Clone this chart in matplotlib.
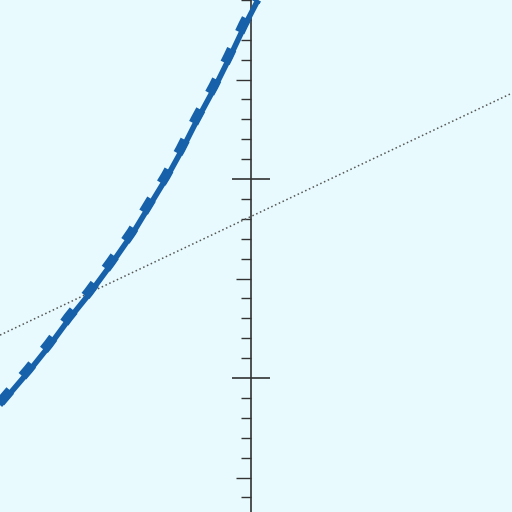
import numpy as np
import matplotlib
matplotlib.use('Agg')
import matplotlib.pyplot as plt
import matplotlib.transforms as mtransforms

plt.rcParams['lines.scale_dashes'] = False

# curve (units: one major tick = 1)
curve_x = [-1.261, -1.111, -1.010, -0.910, -0.809, -0.698, -0.593, -0.508,
           -0.422, -0.347, -0.271, -0.181, -0.106, -0.030, 0.035]
curve_y = [-0.136, 0.040, 0.166, 0.302, 0.427, 0.578, 0.729, 0.869,
           1.010, 1.146, 1.296, 1.462, 1.613, 1.774, 1.899]

# dotted straight line
line_x = [-1.261, 1.312]
line_y = [0.216, 1.432]

major_ticks = [0.0, 1.0]
half_ticks = [-0.5, 0.5, 1.5]
minor_ticks = [round(v, 1) for v in np.arange(-0.6, 1.95, 0.1)]

bg = '#e8fafd'
blue = '#1661aa'

fig = plt.figure(figsize=(5.12, 5.12), dpi=100, facecolor=bg)
ax = fig.add_axes([0, 0, 1, 1], facecolor=bg)

ax.plot(line_x, line_y, color='#555555', lw=1.1, linestyle=(0, (1.1, 1.9)), zorder=2)
ax.plot(curve_x, curve_y, color=blue, lw=4.0, solid_capstyle='butt', zorder=3)
# thick dashes sit a little to the upper-left of the line
shift = mtransforms.offset_copy(ax.transData, fig=fig, x=-1.0, y=0.7, units='points')
ax.plot(curve_x, curve_y, color=blue, lw=7.2, linestyle=(23, (11, 13.5)),
        dash_capstyle='butt', zorder=3, transform=shift)

ax.set_xlim(-1.261, 1.312)
ax.set_ylim(-0.673, 1.899)

for s in ['top', 'right', 'bottom']:
    ax.spines[s].set_visible(False)
ax.spines['left'].set_position(('data', 0))
ax.spines['left'].set_color('#333333')
ax.spines['left'].set_linewidth(1.2)

ax.set_xticks([])
ax.set_yticks(major_ticks)
ax.set_yticks(sorted(set(minor_ticks) - set(major_ticks) - set(half_ticks)), minor=True)
ax.tick_params(axis='y', which='major', direction='inout', length=27,
               width=1.1, color='#222222', labelleft=False)
ax.tick_params(axis='y', which='minor', direction='out', length=7,
               width=1.0, color='#333333', labelleft=False)

# half-way ticks are a bit longer
sec = ax.secondary_yaxis(0, transform=ax.transData)
sec.set_yticks(half_ticks)
sec.tick_params(axis='y', direction='out', length=11, width=1.0,
                color='#333333', labelleft=False)
sec.spines['left'].set_visible(False)

fig.savefig('out.png', dpi=100, facecolor=bg)
